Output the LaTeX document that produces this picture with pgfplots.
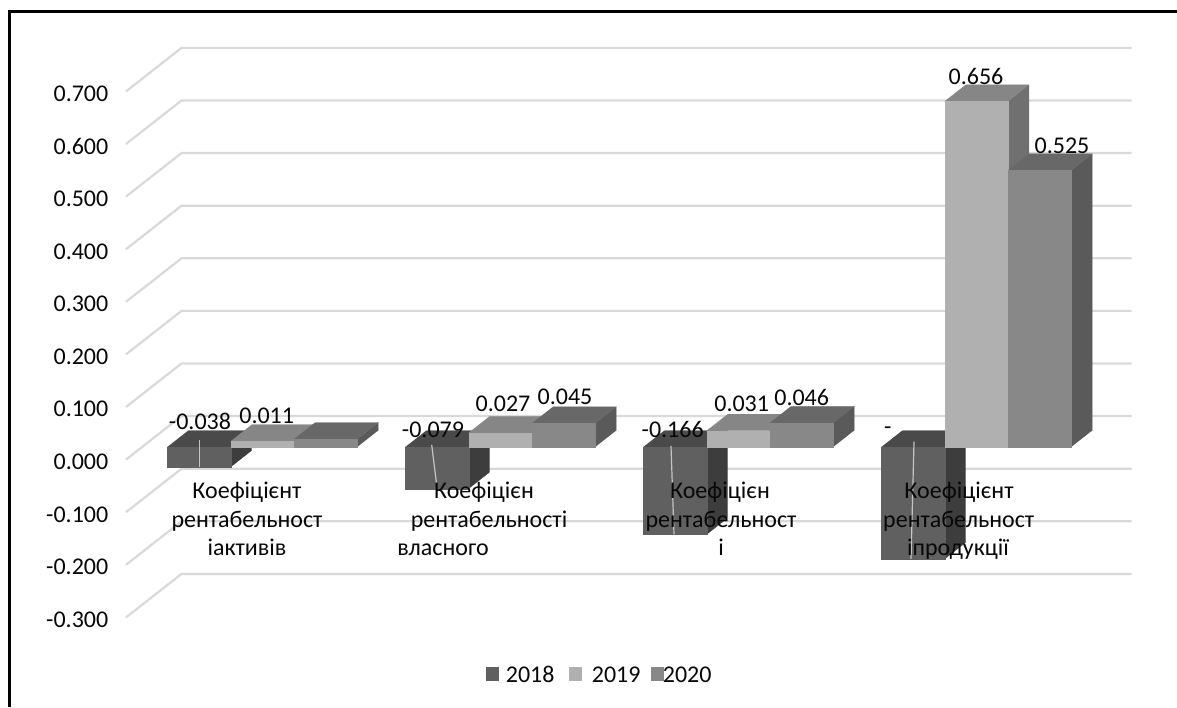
\documentclass[border=0pt]{standalone}
\usepackage{fontspec}
\setmainfont{Carlito}
\usepackage{pgfplots}
\pgfplotsset{compat=1.18}

\definecolor{gridgray}{HTML}{D9D9D9}
\definecolor{leader}{HTML}{C4C4C4}
\definecolor{txt}{HTML}{080808}
% front, top and side shades of each series
\definecolor{aF}{HTML}{606060}\definecolor{aT}{HTML}{4A4A4A}\definecolor{aS}{HTML}{3D3D3D}
\definecolor{bF}{HTML}{B0B0B0}\definecolor{bT}{HTML}{868686}\definecolor{bS}{HTML}{707070}
\definecolor{cF}{HTML}{888888}\definecolor{cT}{HTML}{686868}\definecolor{cS}{HTML}{5A5A5A}

% bar width and oblique depth of the prisms
\def\barw{63.3}
\def\depx{21}
\def\depy{0.0313}

% #1 left edge, #2 value, #3 front, #4 top, #5 side
\newcommand\prism[5]{%
  \pgfmathsetmacro\xb{#1+\barw}%
  \pgfmathsetmacro\xc{#1+\depx}%
  \pgfmathsetmacro\xd{#1+\barw+\depx}%
  \pgfmathsetmacro\tp{max(#2,0)}%
  \pgfmathsetmacro\tq{\tp+\depy}%
  \pgfmathsetmacro\vq{#2+\depy}%
  \edef\cmd{%
    \noexpand\addplot[fill=#5,draw=#5,line width=0.2pt,forget plot] coordinates {(\xb,0)(\xb,#2)(\xd,\vq)(\xd,\depy)};
    \noexpand\addplot[fill=#4,draw=#4,line width=0.2pt,forget plot] coordinates {(#1,\tp)(\xb,\tp)(\xd,\tq)(\xc,\tq)};
    \noexpand\addplot[fill=#3,draw=#3,line width=0.2pt,forget plot] coordinates {(#1,0)(\xb,0)(\xb,#2)(#1,#2)};
  }\cmd}

% #1 group's left edge, #2 #3 #4 the three yearly values
\newcommand\group[4]{%
  \prism{#1}{#2}{aF}{aT}{aS}%
  \pgfmathsetmacro\xnext{#1+\barw}\edef\xone{\xnext}%
  \pgfmathsetmacro\xnext{#1+2*\barw}\edef\xtwo{\xnext}%
  \edef\cmdb{\noexpand\prism{\xone}{#3}{bF}{bT}{bS}\noexpand\prism{\xtwo}{#4}{cF}{cT}{cS}}\cmdb}

\newcommand\lblfont{\fontsize{24}{28}\selectfont}
\newcommand\lbl[3]{\node[anchor=base,inner sep=0pt,text=txt,font=\lblfont] at (#1,#2) {#3};}

\begin{document}
\begin{tikzpicture}[x=1pt,y=1pt]
\useasboundingbox (0,0) rectangle (1177,707);

% wall and floor grid with the value axis
\begin{axis}[
  at={(0,0)},anchor=south west,
  scale only axis,width=1177pt,height=707pt,
  xmin=0,xmax=1177,ymin=-0.47034,ymax=0.87376,
  axis line style={draw=none},
  tick style={draw=none},
  xtick=\empty,
  ytick={-0.3,-0.2,-0.1,0,0.1,0.2,0.3,0.4,0.5,0.6,0.7},
  yticklabels={-0.300,-0.200,-0.100,0.000,0.100,0.200,0.300,0.400,0.500,0.600,0.700},
  yticklabel style={anchor=east,xshift=108.5pt,yshift=-2.2pt,inner sep=0pt,text=txt,font=\lblfont},
  clip=false,
]
\pgfplotsinvokeforeach{-0.3,-0.2,-0.1,0,0.1,0.2,0.3,0.4,0.5,0.6,0.7}{
  \pgfmathsetmacro\gb{#1+0.0827}
  \edef\cmd{\noexpand\addplot[gridgray,line width=2.2pt,line join=miter] coordinates {(126,#1)(181.5,\gb)(1131.7,\gb)};}
  \cmd
}
\end{axis}

% prisms
\begin{axis}[
  at={(0,0)},anchor=south west,
  scale only axis,width=1177pt,height=707pt,
  xmin=0,xmax=1177,ymin=-0.49336,ymax=0.84820,
  hide axis,clip=false,
]
\group{167.3}{-0.038}{0.011}{0.015}
\group{405.3}{-0.079}{0.027}{0.045}
\group{643.3}{-0.166}{0.031}{0.046}
\group{881.3}{-0.2125}{0.656}{0.525}
% leader lines of the 2018 labels
\addplot[leader,line width=1.2pt] coordinates {(199.3,0.0133)(199.3,-0.038)};
\addplot[leader,line width=1.2pt] coordinates {(431.7,0.0038)(436.7,-0.0721)};
\addplot[leader,line width=1.2pt] coordinates {(671,0.0019)(674,-0.166)};
\addplot[leader,line width=1.2pt] coordinates {(914,0.0100)(911,-0.2125)};
\end{axis}

% frame, labels and legend, positioned from the top left corner
\begin{scope}[y=-1pt,shift={(0pt,707pt)}]
\draw[black,line width=2.6pt] (9.3,707) -- (9.3,11.5) -- (1177,11.5);

\lbl{200}{430}{-0.038}
\lbl{266.7}{423.7}{0.011}
\lbl{433}{437.3}{-0.079}
\lbl{503}{412}{0.027}
\lbl{565}{405}{0.045}
\lbl{672.7}{438}{-0.166}
\lbl{741.7}{412}{0.031}
\lbl{801.7}{405.7}{0.046}
\lbl{887.7}{434.7}{-}
\lbl{976}{85}{0.656}
\lbl{1062}{154}{0.525}

\lbl{247}{499}{Коефіцієнт}
\lbl{247}{527}{рентабельност}
\lbl{247}{555}{іактивів}
\lbl{484}{499}{Коефіцієн}
\lbl{489}{527}{рентабельності}
\lbl{443}{555}{власного}
\lbl{720}{499}{Коефіцієн}
\lbl{721}{527}{рентабельност}
\lbl{721}{555}{і}
\lbl{959}{499}{Коефіцієнт}
\lbl{958.7}{527}{рентабельност}
\lbl{958}{555}{іпродукції}

\fill[aF] (486,667) rectangle (499,681);
\fill[bF] (569.3,667) rectangle (582,681);
\fill[cF] (651,667) rectangle (664,681);
\node[anchor=base west,inner sep=0pt,text=txt,font=\lblfont] at (505.7,682.5) {2018};
\node[anchor=base west,inner sep=0pt,text=txt,font=\lblfont] at (591.7,682.5) {2019};
\node[anchor=base west,inner sep=0pt,text=txt,font=\lblfont] at (662.7,682.5) {2020};
\end{scope}
\end{tikzpicture}
\end{document}
